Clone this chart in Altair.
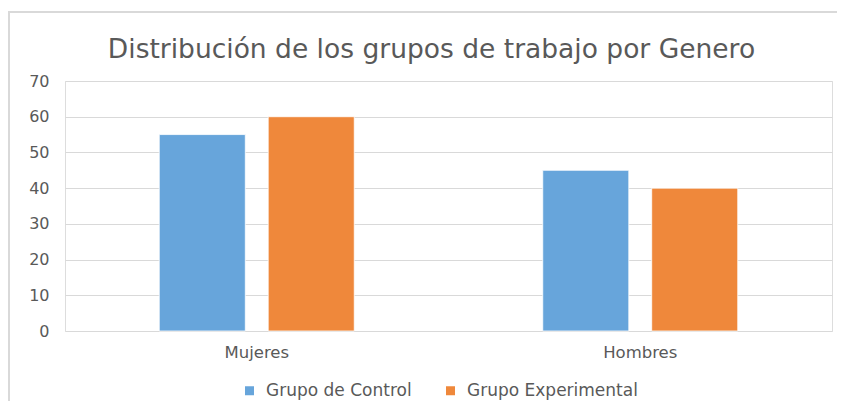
import altair as alt
import pandas as pd

categories = ["Mujeres", "Hombres"]
series = ["Grupo de Control", "Grupo Experimental"]
control = [55, 45]
experimental = [60, 40]
colors = ["#67A5DB", "#EF883B"]
y_ticks = [0, 10, 20, 30, 40, 50, 60, 70]

rows = []
for i, c in enumerate(categories):
    rows.append({"Genero": c, "Grupo": series[0], "Valor": control[i]})
    rows.append({"Genero": c, "Grupo": series[1], "Valor": experimental[i]})
df = pd.DataFrame(rows)

W, H = 767, 250
text_color = "#595959"
font = "DejaVu Sans"

bars = alt.Chart(df).mark_bar(stroke="white", strokeWidth=0.8).encode(
    x=alt.X("Genero:N", sort=categories,
            scale=alt.Scale(paddingInner=0, paddingOuter=0),
            axis=alt.Axis(title=None, labelAngle=0, domain=False, ticks=False,
                          labelPadding=13, labelFontSize=16.5, labelColor=text_color,
                          labelFont=font)),
    xOffset=alt.XOffset("Grupo:N", sort=series,
                        scale=alt.Scale(paddingInner=0.21, paddingOuter=0.865)),
    y=alt.Y("Valor:Q", scale=alt.Scale(domain=[0, 70], nice=False),
            axis=alt.Axis(title=None, values=y_ticks, domain=False, ticks=False,
                          gridColor="#D9D9D9", gridWidth=1, labelPadding=16,
                          labelFontSize=16, labelColor=text_color, labelFont=font)),
    color=alt.Color("Grupo:N", sort=series,
                    scale=alt.Scale(domain=series, range=colors),
                    legend=alt.Legend(title=None, orient="none", direction="horizontal",
                                      legendX=176, legendY=301,
                                      symbolType="square", symbolSize=81,
                                      symbolStrokeWidth=0, labelFontSize=17,
                                      labelLimit=400,
                                      labelColor=text_color, labelFont=font,
                                      columnPadding=30, labelOffset=8)),
)

frame_top = alt.Chart(df).mark_rule(color="#D9D9D9", strokeWidth=2).encode(
    x=alt.value(-57), x2=alt.value(W + 20), y=alt.value(-69)
)
frame_left = alt.Chart(df).mark_rule(color="#D9D9D9", strokeWidth=2).encode(
    x=alt.value(-56), y=alt.value(-70), y2=alt.value(H + 80)
)

chart = alt.layer(bars, frame_top, frame_left).properties(
    width=W, height=H,
    title=alt.TitleParams("Distribución de los grupos de trabajo por Genero",
                          fontSize=26.5, font=font, fontWeight="normal",
                          color=text_color, anchor="middle", dx=-17, dy=53, offset=0),
    autosize=alt.AutoSizeParams(type="none"),
    padding={"left": 57, "top": 73, "right": 5, "bottom": 70},
).configure_view(stroke=None).configure(background="white")

chart.save("out.html", embed_options={"renderer": "svg", "actions": False})
